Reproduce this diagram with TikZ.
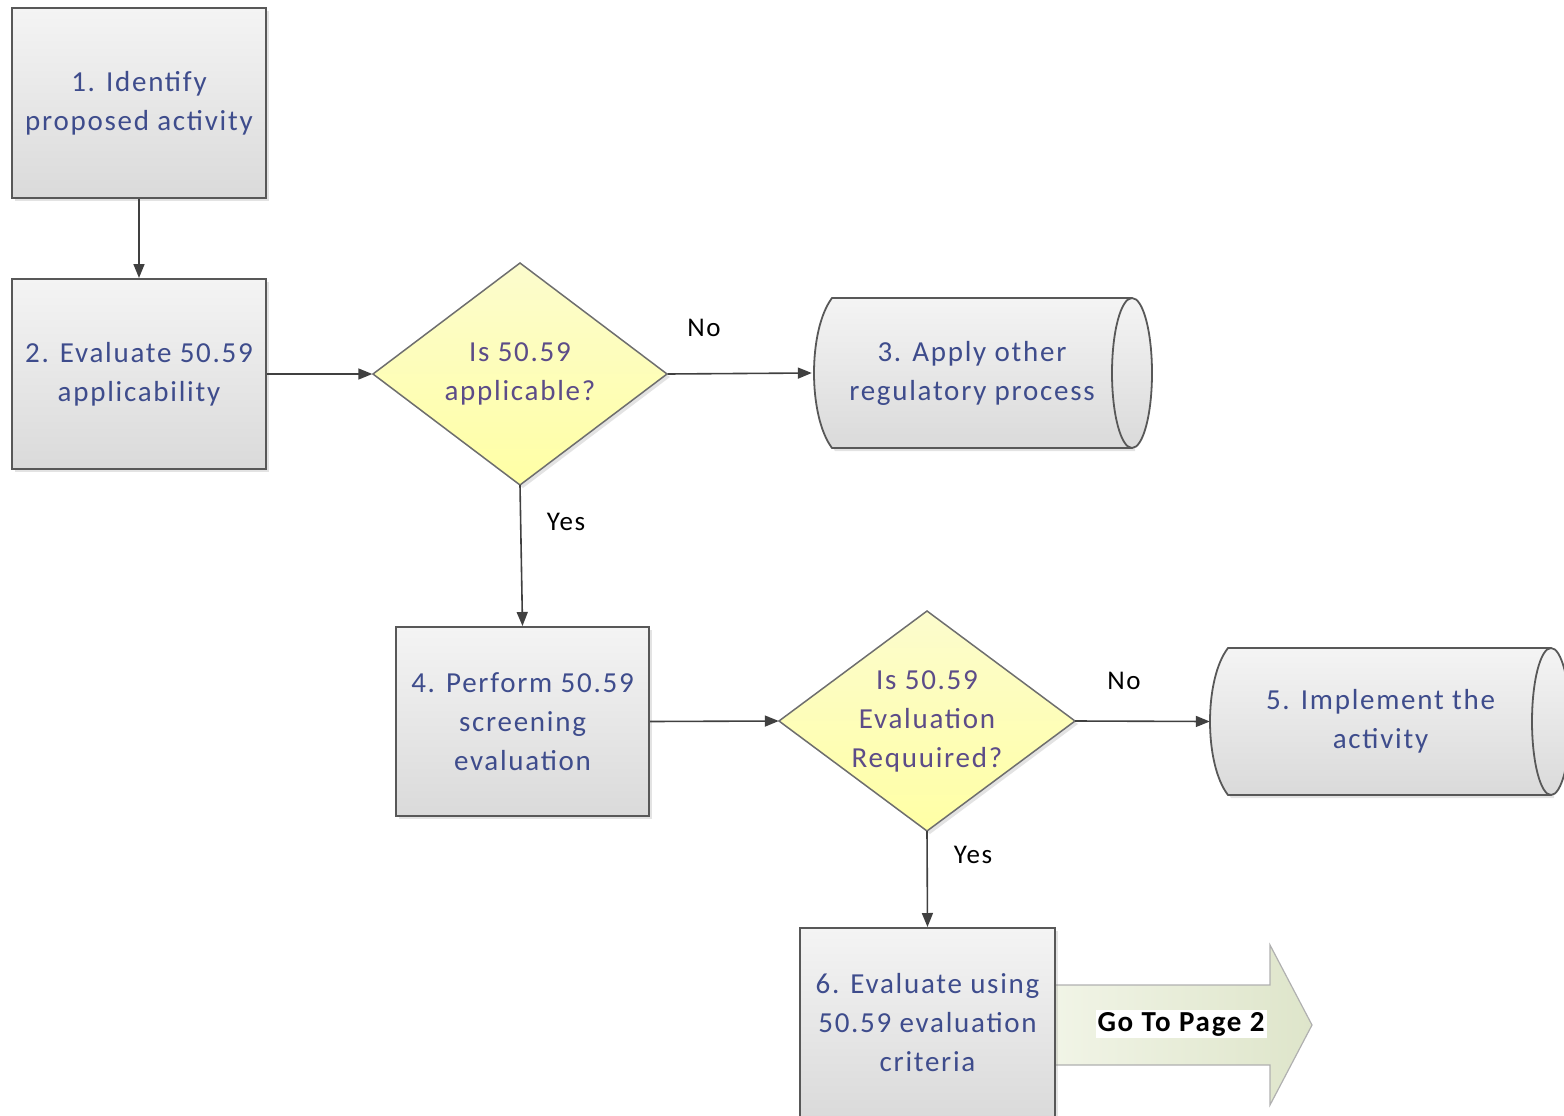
\documentclass[tikz,border=0pt]{standalone}
\usepackage{fontspec}
\setmainfont[LetterSpace=6]{Carlito}
\usetikzlibrary{arrows.meta,shadows}

\definecolor{boxtext}{RGB}{62,76,140}
\definecolor{diamtext}{RGB}{92,76,136}
\definecolor{boxline}{RGB}{88,88,88}
\definecolor{diamline}{RGB}{110,110,110}
\definecolor{connline}{RGB}{64,64,64}
\definecolor{greytop}{RGB}{244,244,244}
\definecolor{greybot}{RGB}{218,218,218}
\definecolor{yeltop}{RGB}{252,252,205}
\definecolor{yelbot}{RGB}{255,255,165}
\definecolor{goleft}{RGB}{242,245,232}
\definecolor{goright}{RGB}{222,229,202}
\definecolor{goline}{RGB}{176,176,176}

\begin{document}
\begin{tikzpicture}[x=1pt,y=-1pt,
  every node/.style={font=\fontsize{29}{39}\selectfont},
  softshadow/.style={drop shadow={opacity=0.22, shadow xshift=3pt, shadow yshift=-3pt}},
  procbox/.style={draw=boxline, line width=2pt, top color=greytop, bottom color=greybot,
    text=boxtext, align=center, minimum width=254pt, minimum height=190pt, inner sep=0pt,
    softshadow},
  diamslot/.style={minimum width=295pt, minimum height=222pt, inner sep=0pt,
    text=diamtext, align=center},
  diamshape/.style={draw=diamline, line width=1.5pt, top color=yeltop, bottom color=yelbot,
    softshadow},
  cylslot/.style={minimum width=320pt, inner sep=0pt, text=boxtext, align=center},
  cylbody/.style={top color=greytop, bottom color=greybot},
  cylline/.style={draw=boxline, line width=1.8pt},
  conn/.style={draw=connline, line width=1.6pt, -{Triangle[length=14pt,width=11pt]}},
  branch/.style={font=\fontsize{27}{32}\selectfont, text=black}
]
\useasboundingbox (0,0) rectangle (1564,1116);

% process boxes
\node[procbox] (b1) at (139,103) {1. Identify\\proposed activity};
\node[procbox] (b2) at (139,374) {2. Evaluate 50.59\\applicability};
\node[procbox, minimum width=253pt, minimum height=189pt] (b4) at (522.5,721.5)
  {4. Perform 50.59\\screening\\evaluation};

% decision diamonds
\path[diamshape] (520,263) -- (667,374) -- (520,485) -- (373,374) -- cycle;
\node[diamslot] (d1) at (520,374) {Is 50.59\\applicable?};
\path[diamshape] (927,611) -- (1075,721) -- (927,831) -- (779,721) -- cycle;
\node[diamslot, minimum width=296pt, minimum height=220pt] (d2) at (927,721)
  {Is 50.59\\Evaluation\\Requuired?};

% terminal cylinders
\path[cylbody, softshadow] (832,298) -- (1132,298) -- (1132,448) -- (832,448)
  .. controls (808,416) and (808,330) .. (832,298) -- cycle;
\path[cylbody] (1132,373) ellipse [x radius=20pt, y radius=75pt];
\draw[cylline] (1132,373) ellipse [x radius=20pt, y radius=75pt];
\draw[cylline] (1132,298) -- (832,298) .. controls (808,330) and (808,416) .. (832,448) -- (1132,448);
\node[cylslot, minimum height=150pt] (c3) at (972,373) {3. Apply other\\regulatory process};

\path[cylbody, softshadow] (1228,648) -- (1551,648) -- (1551,795) -- (1228,795)
  .. controls (1204,764) and (1204,679) .. (1228,648) -- cycle;
\path[cylbody] (1551,721.5) ellipse [x radius=19pt, y radius=73.5pt];
\draw[cylline] (1551,721.5) ellipse [x radius=19pt, y radius=73.5pt];
\draw[cylline] (1551,648) -- (1228,648) .. controls (1204,679) and (1204,764) .. (1228,795) -- (1551,795);
\node[cylslot, minimum width=341pt, minimum height=147pt] (c5) at (1380.5,721.5)
  {5. Implement the\\activity};

% off-page arrow behind box 6
\path[draw=goline, line width=1.2pt, left color=goleft, right color=goright]
  (1040,985) -- (1270,985) -- (1270,945) -- (1312,1025) -- (1270,1105)
  -- (1270,1065) -- (1040,1065) -- cycle;
\node[fill=white, inner sep=2pt, font=\bfseries\fontsize{29}{34}\selectfont, text=black]
  (goto) at (1181,1024) {Go To Page 2};

\node[procbox, minimum width=255pt] (b6) at (927.5,1023)
  {6. Evaluate using\\50.59 evaluation\\criteria};

% connectors
\draw[conn] (b1.south) -- (b2.north);
\draw[conn] (b2.east) -- (d1.west);
\draw[conn] (d1.east) -- (c3.west);
\draw[conn] (d1.south) -- (b4.north);
\draw[conn] (b4.east) -- (d2.west);
\draw[conn] (d2.east) -- (c5.west);
\draw[conn] (d2.south) -- (b6.north);

% branch labels
\node[branch] (no1) at (704,328) {No};
\node[branch] (yes1) at (566,522) {Yes};
\node[branch] (no2) at (1124,681) {No};
\node[branch] (yes2) at (973,855) {Yes};
\end{tikzpicture}
\end{document}
